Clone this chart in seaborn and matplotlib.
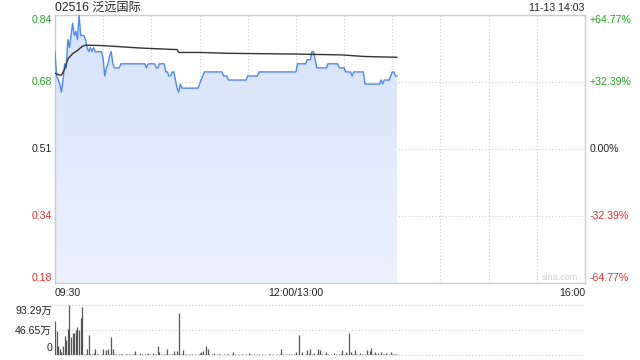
import numpy as np
import pandas as pd
import matplotlib
matplotlib.use("Agg")
import matplotlib.pyplot as plt
import seaborn as sns
from matplotlib.colors import LinearSegmentedColormap

# ---------------- data ----------------
title = "02516 泛远国际"
stamp = "11-13 14:03"
prev_close = 0.51
pct_range = 64.77
price_tick_labels = ["0.84", "0.68", "0.51", "0.34", "0.18"]
pct_tick_labels = ["+64.77%", "+32.39%", "0.00%", "-32.39%", "-64.77%"]
time_labels = ["09:30", "12:00/13:00", "16:00"]
vol_max = 93.29
vol_tick_labels = ["93.29万", "46.65万", "0"]

# price per minute, run-length encoded (level, number of minutes)
price_levels = [0.75, 0.69, 0.68, 0.67, 0.65, 0.68, 0.72, 0.71, 0.78, 0.76,
                0.79, 0.82, 0.79, 0.80, 0.78, 0.84, 0.79, 0.78, 0.76, 0.75,
                0.76, 0.75, 0.76, 0.75, 0.73, 0.69, 0.71, 0.72, 0.74, 0.75,
                0.72, 0.71, 0.72, 0.71, 0.72, 0.71, 0.72, 0.70, 0.69, 0.70,
                0.68, 0.66, 0.65, 0.67, 0.66, 0.67, 0.68, 0.69, 0.70, 0.69,
                0.68, 0.69, 0.70, 0.72, 0.73, 0.75, 0.73, 0.71, 0.72, 0.71,
                0.70, 0.69, 0.70, 0.67, 0.68, 0.67, 0.68, 0.69, 0.70, 0.69]
price_counts = [1, 1, 1, 1, 1, 1, 1, 1, 1, 1,
                1, 1, 1, 1, 1, 1, 3, 1, 1, 1,
                1, 1, 1, 5, 1, 1, 1, 1, 1, 1,
                1, 4, 16, 1, 5, 2, 4, 2, 2, 2,
                1, 1, 1, 1, 11, 1, 1, 1, 12, 3,
                12, 7, 24, 6, 3, 2, 1, 7, 7, 4,
                4, 1, 7, 10, 1, 1, 4, 1, 2, 2]

# average price line vertices
avg_minutes = [0, 2, 4, 6, 8, 11, 14, 17, 19, 29, 53, 64, 76, 77, 91, 106, 150, 178, 193, 213]
avg_values = [0.697, 0.693, 0.692, 0.707, 0.732, 0.745, 0.753, 0.763, 0.766, 0.765,
              0.759, 0.757, 0.755, 0.748, 0.748, 0.746, 0.744, 0.742, 0.738, 0.736]

# volume per minute (万)
volumes = [63, 44, 17, 12, 6, 18, 35, 28, 49, 93,
           34, 41, 41, 46, 52, 46, 68, 89, 2, 3,
           11, 37, 2, 3, 4, 11, 2, 3, 1, 2,
           11, 2, 9, 11, 2, 34, 11, 2, 3, 1,
           2, 3, 2, 1, 2, 2, 3, 1, 2, 2,
           8, 2, 1, 5, 2, 1, 2, 3, 5, 2,
           1, 5, 2, 3, 17, 6, 2, 1, 2, 3,
           11, 2, 3, 2, 8, 2, 8, 78, 3, 2,
           9, 2, 3, 1, 2, 3, 1, 2, 1, 2,
           4, 6, 8, 2, 18, 11, 2, 1, 2, 4,
           1, 2, 3, 2, 1, 2, 1, 2, 2, 1,
           2, 6, 2, 1, 2, 1, 2, 2, 1, 2,
           1, 4, 2, 1, 2, 1, 2, 2, 1, 2,
           1, 2, 1, 2, 2, 1, 2, 1, 2, 1,
           2, 11, 2, 1, 2, 1, 2, 2, 1, 2,
           6, 2, 37, 2, 6, 1, 2, 9, 2, 11,
           2, 4, 1, 2, 11, 9, 2, 1, 2, 6,
           2, 1, 2, 1, 4, 2, 1, 2, 3, 9,
           2, 6, 2, 41, 6, 2, 3, 9, 2, 1,
           4, 2, 1, 3, 9, 2, 8, 14, 2, 6,
           2, 4, 1, 6, 2, 3, 4, 2, 1, 6,
           2, 3, 2, 2]

session_minutes = 330
grid_step = 30

# ---------------- build ----------------
prices = np.repeat(price_levels, price_counts)
minutes = np.arange(len(prices))
df = pd.DataFrame({"minute": minutes, "price": prices})
df_avg = pd.DataFrame({"minute": avg_minutes, "avg": avg_values})
vol_minutes = np.arange(len(volumes))

ymax = prev_close * (1 + pct_range / 100)
ymin = prev_close * (1 - pct_range / 100)
half = pct_range / 2 / 100
hgrid = [prev_close * (1 + half), prev_close, prev_close * (1 - half)]

sns.set_theme(style="white")
plt.rcParams["font.family"] = ["Liberation Sans", "Noto Sans CJK SC", "DejaVu Sans"]

W, H = 640, 360
fig = plt.figure(figsize=(6.4, 3.6), dpi=100)
fig.patch.set_facecolor("white")


def fx(x):
    return x / W


def fy(y):
    return 1 - y / H


ax = fig.add_axes([fx(55), fy(283), 530 / W, 268 / H])
axv = fig.add_axes([fx(55), fy(355.3), 530 / W, 50.6 / H])

grid_color = "#cccccc"
dot = (0, (1, 2))
green = "#22a322"
red = "#e52d2d"
dark = "#222222"

# gradient fill under price
poly = ax.fill_between(df["minute"], df["price"], ymin, color="none", lw=0)
cmap = LinearSegmentedColormap.from_list("fillgrad", ["#ebf1fd", "#d6e3fb"])
grad = np.linspace(0, 1, 256).reshape(-1, 1)
img = ax.imshow(grad, extent=[0, minutes[-1], ymin, ymax], origin="lower",
                aspect="auto", cmap=cmap, zorder=1)
img.set_clip_path(poly.get_paths()[0], transform=ax.transData)

for m in range(grid_step, session_minutes, grid_step):
    ax.axvline(m, color=grid_color, ls=dot, lw=0.8, zorder=0.5)
for v in hgrid:
    ax.axhline(v, color=grid_color, ls=dot, lw=0.8, zorder=0.5)

sns.lineplot(data=df, x="minute", y="price", ax=ax, color="#5088ee", lw=1.0,
             zorder=3, sort=False)
sns.lineplot(data=df_avg, x="minute", y="avg", ax=ax, color="#333333", lw=1.0,
             zorder=4, sort=False)

ax.set_xlim(0, session_minutes)
ax.set_ylim(ymin, ymax)
ax.set_xticks([])
ax.set_yticks([])
ax.set_xlabel("")
ax.set_ylabel("")
for s in ax.spines.values():
    s.set_color(grid_color)
    s.set_linewidth(1)

# volume panel
axv.vlines(vol_minutes, 0, volumes, color="#555555", lw=0.9)
for v in [vol_max, vol_max / 2, 0]:
    axv.axhline(v, color=grid_color, ls=dot, lw=0.8, zorder=0, clip_on=False)
axv.set_xlim(0, session_minutes)
axv.set_ylim(0, vol_max)
axv.set_xticks([])
axv.set_yticks([])
for s in axv.spines.values():
    s.set_visible(False)

fs = 7.6
# header
fig.text(fx(55), fy(7.5), title, fontsize=8.7, color=dark, ha="left", va="center")
fig.text(fx(584), fy(8), stamp, fontsize=fs, color=dark, ha="right", va="center")

# price / pct labels
label_y = [20, 82, 149, 216, 278]
colors = [green, green, dark, red, red]
for lab, pct, y, c in zip(price_tick_labels, pct_tick_labels, label_y, colors):
    fig.text(fx(52), fy(y), lab, fontsize=fs, color=c, ha="right", va="center")
    fig.text(fx(590), fy(y), pct, fontsize=fs, color=c, ha="left", va="center")

# time labels
fig.text(fx(55), fy(293.5), time_labels[0], fontsize=fs, color=dark, ha="left", va="center")
fig.text(fx(296), fy(293.5), time_labels[1], fontsize=fs, color=dark, ha="center", va="center")
fig.text(fx(585), fy(293.5), time_labels[2], fontsize=fs, color=dark, ha="right", va="center")

# volume labels
for lab, y in zip(vol_tick_labels, [311.3, 330.5, 348.3]):
    fig.text(fx(52), fy(y), lab, fontsize=fs, color=dark, ha="right", va="center")

# watermark
fig.text(fx(578), fy(277), "sina.com", fontsize=6.5, color="#d0d0d0", ha="right", va="center")

fig.savefig("out.png", dpi=100, facecolor="white")
